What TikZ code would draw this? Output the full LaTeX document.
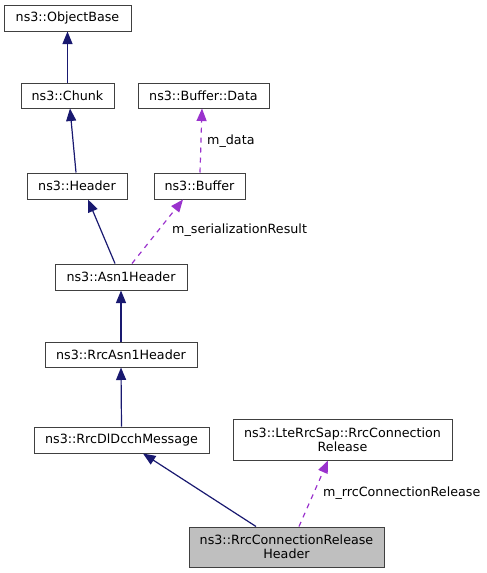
\documentclass[tikz,border=0pt]{standalone}
\usepackage{fontspec}
\setmainfont{DejaVu Sans}
\usetikzlibrary{arrows.meta}
\definecolor{inh}{HTML}{191970}
\definecolor{usg}{HTML}{9A32CD}
\definecolor{bord}{HTML}{404040}
\tikzset{
  cls/.style={draw=bord, line width=1pt, fill=white, inner sep=0pt, align=center,
    font=\fontsize{12.7}{14}\selectfont, text=black},
  inhe/.style={draw=inh, line width=1.2pt, -{Triangle[length=12.5pt,width=10pt]}},
  use/.style={draw=usg, line width=1.2pt, dash pattern=on 5pt off 5pt, -{Triangle[length=12.5pt,width=10pt]}},
  lbl/.style={font=\fontsize{12.7}{14}\selectfont, inner sep=0pt, anchor=west}
}
\begin{document}
\begin{tikzpicture}[x=1pt,y=-1pt]
\useasboundingbox (0,0) rectangle (487,573);
\node[cls, minimum width=127, minimum height=26] (ob) at (67.5,18) {ns3::ObjectBase};
\node[cls, minimum width=93, minimum height=25] (ch) at (67.5,95.5) {ns3::Chunk};
\node[cls, minimum width=131, minimum height=25] (bd) at (203.5,95.5) {ns3::Buffer::Data};
\node[cls, minimum width=100, minimum height=26] (hd) at (77,186) {ns3::Header};
\node[cls, minimum width=91, minimum height=26] (bf) at (199.5,186) {ns3::Buffer};
\node[cls, minimum width=132, minimum height=26] (as) at (121,277) {ns3::Asn1Header};
\node[cls, minimum width=152, minimum height=25] (ra) at (121,354.5) {ns3::RrcAsn1Header};
\node[cls, minimum width=175, minimum height=26] (dl) at (121.5,440) {ns3::RrcDlDcchMessage};
\node[cls, minimum width=219, minimum height=41] (lt) at (342.5,439.5) {ns3::LteRrcSap::RrcConnection\\Release};
\node[cls, minimum width=195, minimum height=40, fill={rgb,255:red,191;green,191;blue,191}] (fi) at (286.5,547) {ns3::RrcConnectionRelease\\Header};

\draw[inhe] (ch.north) -- (ob.south);
\draw[inhe] ([xshift=-1]hd.north) -- ([xshift=2.5]ch.south);
\draw[inhe] ([xshift=-6]as.north) -- ([xshift=11]hd.south);
\draw[use] ([xshift=11]as.north) -- ([xshift=-16.5]bf.south);
\draw[use] ([xshift=0.5]bf.north) -- ([xshift=-1.5]bd.south);
\draw[inhe] (ra.north) -- (as.south);
\draw[inhe] (dl.north) -- (ra.south);
\draw[inhe] ([xshift=-30.5]fi.north) -- ([xshift=21.5]dl.south);
\draw[use] ([xshift=12.5]fi.north) -- ([xshift=-14.5]lt.south);

\node[lbl] (l1) at (207,141) {m\_data};
\node[lbl] (l2) at (172,230) {m\_serializationResult};
\node[lbl] (l3) at (323,493) {m\_rrcConnectionRelease};
\end{tikzpicture}
\end{document}
